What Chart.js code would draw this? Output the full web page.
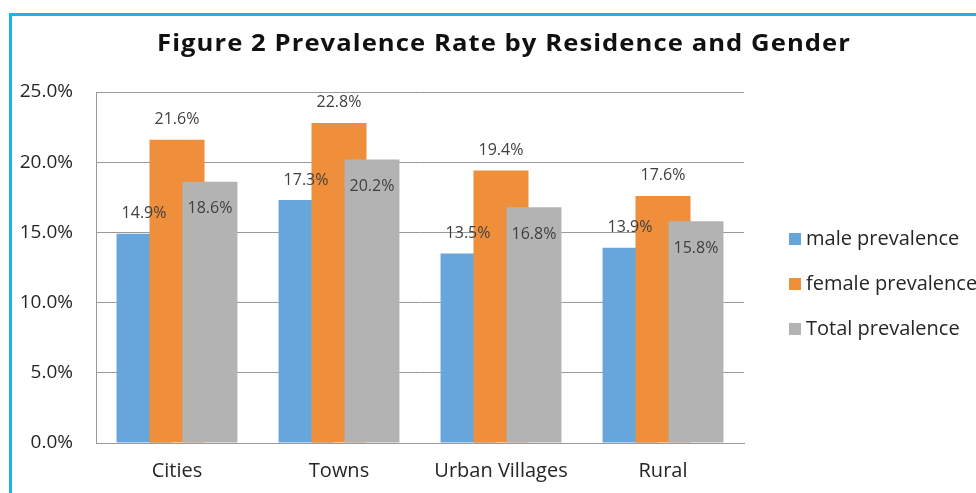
<!DOCTYPE html>
<html>
<head>
<meta charset="utf-8">
<title>Prevalence Rate by Residence and Gender</title>
<script src="https://cdn.jsdelivr.net/npm/chart.js@4.4.0/dist/chart.umd.min.js"></script>
<style>
  html, body { margin: 0; padding: 0; background: #fff; }
  #wrap { position: relative; width: 976px; height: 493px; overflow: hidden; }
  #frame {
    position: absolute; left: 9px; top: 13px; right: -10px; bottom: -10px;
    border-left: 3px solid #1bb3ec; border-top: 3px solid #1bb3ec;
  }
  #chart { position: absolute; left: 0; top: 0; }
</style>
</head>
<body>
<div id="wrap">
  <div id="frame"></div>
  <canvas id="chart" width="976" height="493"></canvas>
</div>
<script>
// data
const categories = ['Cities', 'Towns', 'Urban Villages', 'Rural'];
const malePrevalence = [14.9, 17.3, 13.5, 13.9];
const femalePrevalence = [21.6, 22.8, 19.4, 17.6];
const totalPrevalence = [18.6, 20.2, 16.8, 15.8];
const seriesNames = ['male prevalence', 'female prevalence', 'Total prevalence'];
const yTicks = [0, 5, 10, 15, 20, 25];
const chartTitle = 'Figure 2 Prevalence Rate by Residence and Gender';

const FONT = '"Open Sans", "DejaVu Sans", sans-serif';
const TEXT = '#262626';

/*
 * Excel-like overlap: bars wider than their slot, later series on top
 */
const overlapDraw = {
  id: 'overlapDraw',
  beforeDatasetsDraw(chart) {
    chart.getSortedVisibleDatasetMetas()
      .slice()
      .sort((a, b) => a.index - b.index)
      .forEach((meta) => meta.controller.draw());
    return false;
  }
};

// title, value labels and legend
const decorations = {
  id: 'decorations',
  afterDraw(chart) {
    const ctx = chart.ctx;
    ctx.save();

    // title is a wide geometric face in the original, so spread it out
    ctx.fillStyle = '#111';
    ctx.font = 'bold 24px ' + FONT;
    ctx.textAlign = 'center';
    ctx.textBaseline = 'middle';
    if ('letterSpacing' in ctx) ctx.letterSpacing = '1px';
    const w = ctx.measureText(chartTitle).width;
    ctx.save();
    ctx.translate(504, 44);
    ctx.scale(694 / w, 1);
    ctx.fillText(chartTitle, 0, 0);
    ctx.restore();
    if ('letterSpacing' in ctx) ctx.letterSpacing = '0px';

    ctx.font = '16px ' + FONT;
    ctx.fillStyle = '#404040';
    chart.data.datasets.forEach((ds, i) => {
      const meta = chart.getDatasetMeta(i);
      meta.data.forEach((bar, j) => {
        const y = ds.labelInside ? bar.y + 27 : bar.y - 20;
        ctx.fillText(ds.data[j].toFixed(1) + '%', bar.x, y);
      });
    });

    ctx.font = '20px ' + FONT;
    ctx.textAlign = 'left';
    chart.data.datasets.forEach((ds, i) => {
      const cy = 239 + i * 45;
      ctx.fillStyle = ds.backgroundColor;
      ctx.fillRect(789, cy - 6, 12, 12);
      ctx.fillStyle = TEXT;
      ctx.fillText(ds.label, 806, cy);
    });

    ctx.restore();
  }
};

const initChart = () => {
  const el = document.getElementById('chart');

  const barOpts = {
    categoryPercentage: 0.61,
    barPercentage: 1.67,
    borderWidth: 0
  };

  new Chart(el, {
    type: 'bar',
    data: {
      labels: categories,
      datasets: [
        Object.assign({ label: seriesNames[0], data: malePrevalence, backgroundColor: '#67a6dc' }, barOpts),
        Object.assign({ label: seriesNames[1], data: femalePrevalence, backgroundColor: '#ef8f3b' }, barOpts),
        Object.assign({ label: seriesNames[2], data: totalPrevalence, backgroundColor: '#b3b3b3', labelInside: true }, barOpts)
      ]
    },
    options: {
      responsive: false,
      animation: false,
      layout: {
        padding: { left: 0, top: 92, right: 232, bottom: 0 }
      },
      plugins: {
        legend: { display: false },
        title: { display: false },
        tooltip: { enabled: false }
      },
      scales: {
        x: {
          grid: { display: false, drawTicks: false },
          border: { display: true, color: '#9a9a9a', width: 1 },
          ticks: {
            color: TEXT,
            font: { family: FONT, size: 20 },
            padding: 16,
            maxRotation: 0
          },
          afterFit(scale) { scale.height = 50; }
        },
        y: {
          min: 0,
          max: 25,
          grid: { color: '#9a9a9a', lineWidth: 1, drawTicks: false },
          border: { display: true, color: '#9a9a9a', width: 1 },
          ticks: {
            color: TEXT,
            font: { family: FONT, size: 19 },
            padding: 23,
            callback: (v) => v.toFixed(1) + '%'
          },
          afterBuildTicks(scale) {
            scale.ticks = yTicks.map((v) => ({ value: v }));
          },
          afterFit(scale) { scale.width = 96; }
        }
      }
    },
    plugins: [overlapDraw, decorations]
  });
};

initChart();
</script>
</body>
</html>
